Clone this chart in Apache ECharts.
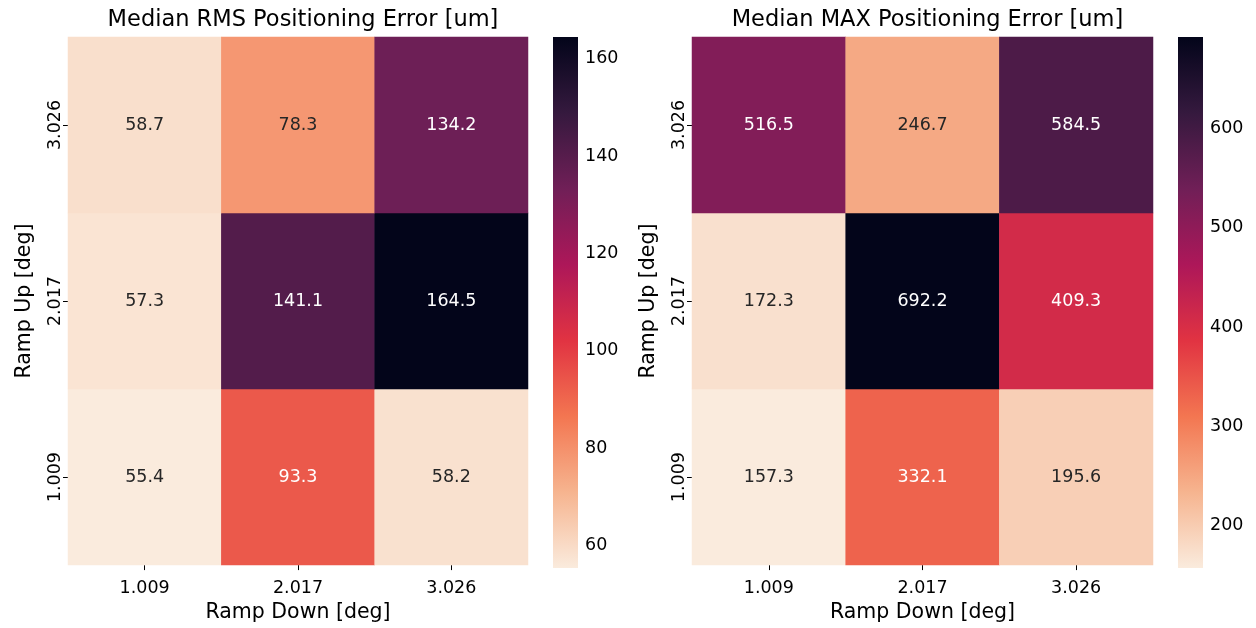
<!DOCTYPE html>
<html>
<head>
<meta charset="utf-8">
<script src="https://cdn.jsdelivr.net/npm/echarts@6/dist/echarts.min.js"></script>
<style>
  html, body { margin: 0; padding: 0; background: #fff; }
  #chart { width: 1256px; height: 628px; }
</style>
</head>
<body>
<div id="chart"></div>
<script>
// Ramp settings (degrees)
const rampDown = ['1.009', '2.017', '3.026'];
const rampUp = ['1.009', '2.017', '3.026'];

// Median RMS error [um], one row per ramp-up value (bottom to top), columns by ramp-down
const rmsRows = [
  [55.4, 93.3, 58.2],   // up 1.009
  [57.3, 141.1, 164.5], // up 2.017
  [58.7, 78.3, 134.2]   // up 3.026
];
// Median MAX error [um]
const maxRows = [
  [157.3, 332.1, 195.6],
  [172.3, 692.2, 409.3],
  [516.5, 246.7, 584.5]
];

const rmsTicks = [60, 80, 100, 120, 140, 160];
const maxTicks = [200, 300, 400, 500, 600];

// "rocket" colormap, reversed (light -> dark)
const rocketR = ['#faebdd', '#f6b48f', '#f37651', '#e13342', '#ad1759', '#701f57', '#35193e', '#03051a'];

const FONT = 'DejaVu Sans';
const DARK_TEXT = '#262626';

function flatten(rows) {
  const all = rows.flat();
  const lo = Math.min(...all), hi = Math.max(...all);
  const out = [];
  rows.forEach((row, yi) => row.forEach((v, xi) => {
    const t = (v - lo) / (hi - lo);
    out.push({ value: [xi, yi, v], label: { color: t > 0.3 ? '#ffffff' : DARK_TEXT } });
  }));
  return { data: out, lo, hi };
}

const rms = flatten(rmsRows);
const mx = flatten(maxRows);

const panels = [
  { title: 'Median RMS Positioning Error [um]', left: 68, width: 460, cbLeft: 553, set: rms, ticks: rmsTicks },
  { title: 'Median MAX Positioning Error [um]', left: 692, width: 461, cbLeft: 1178, set: mx, ticks: maxTicks }
];
const TOP = 37, HEIGHT = 531, CBW = 25;

const option = {
  animation: false,
  backgroundColor: '#ffffff',
  textStyle: { fontFamily: FONT },
  title: [], grid: [], xAxis: [], yAxis: [], visualMap: [], series: []
};

const gradStops = rocketR.map((c, i) => ({ offset: i / (rocketR.length - 1), color: c }));

panels.forEach((p, i) => {
  const g = i * 2;      // heatmap grid
  const cb = i * 2 + 1; // colorbar grid
  option.title.push({
    text: p.title, left: p.left + p.width / 2, top: 4, textAlign: 'center',
    textStyle: { fontFamily: FONT, fontSize: 22.5, fontWeight: 'normal', color: '#000' }
  });
  option.grid.push({ left: p.left, top: TOP, width: p.width, height: HEIGHT });
  option.grid.push({ left: p.cbLeft, top: TOP, width: CBW, height: HEIGHT });

  option.xAxis.push({
    type: 'category', gridIndex: g, data: rampDown,
    name: 'Ramp Down [deg]', nameLocation: 'middle', nameGap: 34,
    nameTextStyle: { fontFamily: FONT, fontSize: 20.5, color: '#000' },
    axisLine: { show: false },
    axisTick: { show: true, alignWithLabel: true, length: 5, lineStyle: { color: '#000' } },
    axisLabel: { fontFamily: FONT, fontSize: 17.5, color: '#000', margin: 14 },
    splitLine: { show: false }
  });
  option.yAxis.push({
    type: 'category', gridIndex: g, data: rampUp,
    name: 'Ramp Up [deg]', nameLocation: 'middle', nameGap: 33, nameRotate: 90,
    nameTextStyle: { fontFamily: FONT, fontSize: 20.5, color: '#000' },
    axisLine: { show: false },
    axisTick: { show: true, alignWithLabel: true, length: 5, lineStyle: { color: '#000' } },
    axisLabel: { fontFamily: FONT, fontSize: 17.5, color: '#000', rotate: 90, margin: 4 },
    splitLine: { show: false }
  });

  // colorbar axes
  option.xAxis.push({ type: 'value', gridIndex: cb, min: 0, max: 1, show: false });
  option.yAxis.push({
    type: 'value', gridIndex: cb, min: p.set.lo, max: p.set.hi, position: 'right',
    axisLine: { show: false },
    axisTick: { show: true, length: 5, lineStyle: { color: '#000' }, customValues: p.ticks },
    axisLabel: { fontFamily: FONT, fontSize: 17.5, color: '#000', margin: 7, customValues: p.ticks },
    splitLine: { show: false }
  });

  option.visualMap.push({
    type: 'continuous', show: false, seriesIndex: i * 2,
    min: p.set.lo, max: p.set.hi, dimension: 2,
    inRange: { color: rocketR }
  });

  option.series.push({
    type: 'heatmap', xAxisIndex: g, yAxisIndex: g, data: p.set.data,
    itemStyle: { borderWidth: 0 },
    label: {
      show: true, fontFamily: FONT, fontSize: 17.5,
      formatter: (d) => d.value[2].toFixed(1)
    },
    emphasis: { disabled: true }
  });

  option.series.push({
    type: 'custom', xAxisIndex: cb, yAxisIndex: cb, silent: true,
    data: [[0, p.set.lo, 1, p.set.hi]],
    renderItem: (params, api) => {
      const a = api.coord([api.value(0), api.value(1)]);
      const b = api.coord([api.value(2), api.value(3)]);
      return {
        type: 'rect',
        shape: { x: a[0], y: b[1], width: b[0] - a[0], height: a[1] - b[1] },
        style: { fill: { type: 'linear', x: 0, y: 1, x2: 0, y2: 0, colorStops: gradStops } }
      };
    }
  });
});

const chart = echarts.init(document.getElementById('chart'), null, { renderer: 'canvas' });
chart.setOption(option);
</script>
</body>
</html>
